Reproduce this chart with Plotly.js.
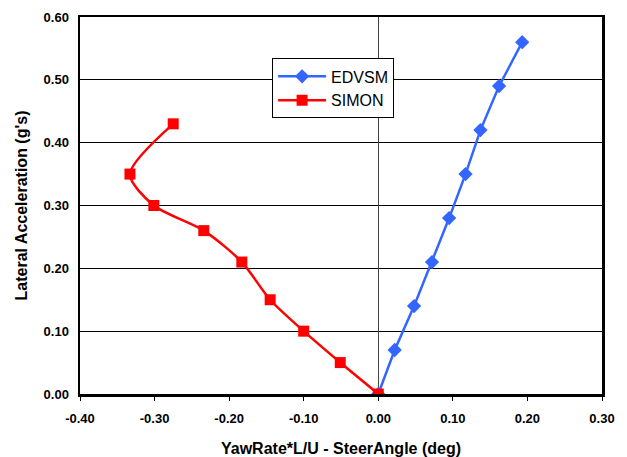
<!DOCTYPE html>
<html><head><meta charset="utf-8">
<script src="https://cdn.plot.ly/plotly-3.0.1.min.js"></script>
<style>html,body{margin:0;padding:0;background:#fff}</style>
</head><body><div id="chart" style="width:627px;height:457px"></div>
<script>
const edvsmX = [0.00, 0.022, 0.048, 0.072, 0.095, 0.117, 0.137, 0.162, 0.193];
const edvsmY = [0.00, 0.07, 0.14, 0.21, 0.28, 0.35, 0.42, 0.49, 0.56];
const simonX = [0.00, -0.051, -0.100, -0.145, -0.183, -0.234, -0.301, -0.333, -0.275];
const simonY = [0.00, 0.05, 0.10, 0.15, 0.21, 0.26, 0.30, 0.35, 0.43];
const xTicks = [-0.4, -0.3, -0.2, -0.1, 0.0, 0.1, 0.2, 0.3];
const yTicks = [0.0, 0.1, 0.2, 0.3, 0.4, 0.5, 0.6];

const traces = [
  {x: edvsmX, y: edvsmY, name: 'EDVSM', type: 'scatter', mode: 'lines+markers',
   line: {color: '#3366FF', width: 2.5}, marker: {symbol: 'diamond', size: 11, color: '#3366FF'}},
  {x: simonX, y: simonY, name: 'SIMON', type: 'scatter', mode: 'lines+markers',
   line: {color: '#FF0000', width: 2.5, shape: 'spline', smoothing: 0.8}, marker: {symbol: 'square', size: 11, color: '#FF0000'}}
];
const tickFont = {family: 'Liberation Sans, Arial', size: 13, color: '#000', weight: 'bold'};
const titleFont = {family: 'Liberation Sans, Arial', size: 16, color: '#000', weight: 'bold'};
const layout = {
  width: 627, height: 457,
  margin: {l: 80, r: 25, t: 17, b: 63},
  paper_bgcolor: '#fff', plot_bgcolor: '#fff',
  showlegend: true,
  legend: {x: 0.368, y: 0.89, xanchor: 'left', yanchor: 'top', bgcolor: '#fff',
    bordercolor: '#000', borderwidth: 1, itemwidth: 48,
    font: {family: 'Liberation Sans, Arial', size: 16, color: '#000'}, tracegroupgap: 2},
  xaxis: {range: [-0.4, 0.3], tickvals: xTicks, ticktext: xTicks.map(v => v.toFixed(2)),
    showgrid: false, zeroline: true, zerolinecolor: '#444', zerolinewidth: 1,
    showline: true, linecolor: '#000', linewidth: 2.5, mirror: true,
    ticks: 'outside', ticklen: 4, tickcolor: '#000', tickfont: tickFont, ticklabelstandoff: 7,
    automargin: false,
    title: {text: 'YawRate*L/U - SteerAngle (deg)', standoff: 18, font: titleFont}},
  yaxis: {range: [0, 0.6], tickvals: yTicks, ticktext: yTicks.map(v => v.toFixed(2)),
    showgrid: true, gridcolor: '#000', gridwidth: 1, zeroline: false,
    showline: true, linecolor: '#000', linewidth: 2.5, mirror: true,
    ticks: '', tickfont: tickFont, ticklabelstandoff: 6, automargin: false,
    title: {text: "Lateral Acceleration (g's)", standoff: 12, font: titleFont}}
};
Plotly.newPlot('chart', traces, layout, {displayModeBar: false, staticPlot: true});
</script></body></html>
